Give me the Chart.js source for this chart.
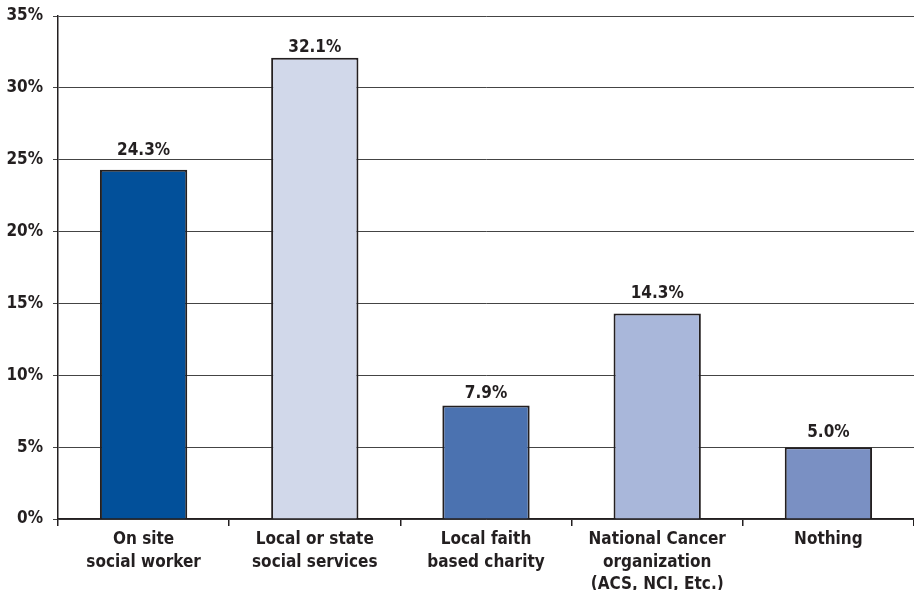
<!DOCTYPE html>
<html>
<head>
<meta charset="utf-8">
<script src="https://cdn.jsdelivr.net/npm/chart.js@4/dist/chart.umd.min.js"></script>
<style>
  html, body { margin: 0; padding: 0; background: #fff; }
  #wrap { width: 914px; height: 590px; }
</style>
</head>
<body>
<div id="wrap"><canvas id="supportChart" width="914" height="590"></canvas></div>
<script>
// Categories, values and tick labels
const categories = [
    ['On site', 'social worker'],
    ['Local or state', 'social services'],
    ['Local faith', 'based charity'],
    ['National Cancer', 'organization', '(ACS, NCI, Etc.)'],
    ['Nothing']
];
const values = [24.3, 32.1, 7.9, 14.3, 5.0];
const barColors = ['#02509a', '#d1d8ea', '#4b72b0', '#a9b7da', '#7a90c3'];
const yTicks = [0, 5, 10, 15, 20, 25, 30, 35];

const FONT = "'Liberation Sans Narrow', 'DejaVu Sans Condensed', 'Liberation Sans', sans-serif";
const INK = '#231f20';

// Draw the value above each bar (gap = space between baseline and bar top)
const valueLabels = {
    id: 'valueLabels',
    afterDatasetsDraw(chart, args, opts) {
        const ctx = chart.ctx;
        const meta = chart.getDatasetMeta(0);
        ctx.save();
        ctx.font = 'bold 17px ' + FONT;
        ctx.fillStyle = INK;
        ctx.textAlign = 'center';
        ctx.textBaseline = 'alphabetic';
        meta.data.forEach((bar, i) => {
            const gap = opts.gaps[i] ?? 10;
            ctx.fillText(values[i].toFixed(1) + '%', bar.x, bar.y - gap);
        });
        ctx.restore();
    }
};

Chart.defaults.font.family = FONT;

new Chart(document.getElementById('supportChart').getContext('2d'), {
    type: 'bar',
    data: {
        labels: categories,
        datasets: [{
            data: values,
            backgroundColor: barColors,
            borderColor: INK,
            borderWidth: 2,
            categoryPercentage: 1,
            barPercentage: 0.51
        }]
    },
    options: {
        responsive: false,
        animation: false,
        layout: { padding: { top: 16, right: 0, left: 0, bottom: 0 } },
        plugins: {
            legend: { display: false },
            tooltip: { enabled: false },
            valueLabels: { gaps: [15, 6, 7, 15, 10] }
        },
        scales: {
            x: {
                grid: {
                    offset: true,
                    drawOnChartArea: false,
                    drawTicks: true,
                    tickLength: 7,
                    color: INK,
                    lineWidth: 1.5
                },
                border: { color: INK, width: 1.5 },
                ticks: {
                    color: INK,
                    font: { size: 17, weight: 'bold', lineHeight: 1.3 },
                    padding: 3,
                    maxRotation: 0,
                    autoSkip: false
                },
                afterFit(scale) { scale.height = 71; }
            },
            y: {
                min: 0,
                max: 35,
                afterBuildTicks(scale) {
                    scale.ticks = yTicks.map(v => ({ value: v }));
                },
                grid: {
                    color: '#444',
                    lineWidth: 1,
                    drawTicks: true,
                    tickLength: 5
                },
                border: { color: INK, width: 1.5 },
                ticks: {
                    color: INK,
                    font: { size: 17, weight: 'bold' },
                    padding: 10,
                    callback: v => v + '%'
                },
                afterFit(scale) {
                    scale.width = 58;
                    scale.paddingTop = 0;
                    scale.paddingBottom = 0;
                }
            }
        }
    },
    plugins: [valueLabels]
});
</script>
</body>
</html>
